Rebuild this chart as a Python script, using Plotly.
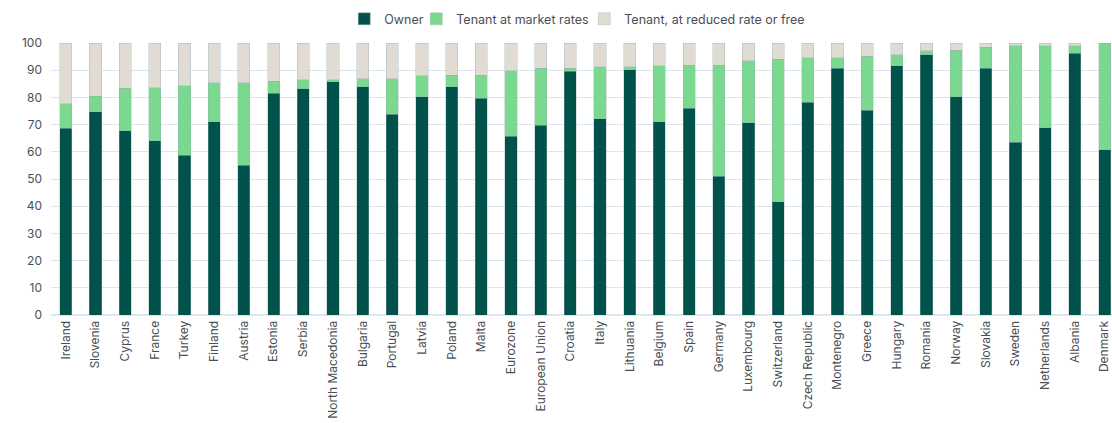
import plotly.graph_objects as go

countries = ["Ireland", "Slovenia", "Cyprus", "France", "Turkey", "Finland", "Austria",
             "Estonia", "Serbia", "North Macedonia", "Bulgaria", "Portugal", "Latvia",
             "Poland", "Malta", "Eurozone", "European Union", "Croatia", "Italy",
             "Lithuania", "Belgium", "Spain", "Germany", "Luxembourg", "Switzerland",
             "Czech Republic", "Montenegro", "Greece", "Hungary", "Romania", "Norway",
             "Slovakia", "Sweden", "Netherlands", "Albania", "Denmark"]

owner = [68.6, 74.7, 67.8, 64.0, 58.8, 71.0, 55.1, 81.6, 83.1, 85.7, 84.0, 73.8, 80.2,
         84.0, 79.7, 65.7, 69.8, 89.6, 72.2, 90.2, 71.1, 76.1, 51.0, 70.7, 41.7,
         78.3, 90.8, 75.3, 91.6, 95.6, 80.2, 90.8, 63.5, 68.8, 96.3, 60.7]

market = [9.0, 5.8, 15.6, 19.5, 25.5, 14.3, 30.2, 4.4, 3.3, 0.7, 2.9, 13.1, 7.7,
          4.2, 8.5, 24.1, 21.0, 1.2, 19.0, 1.0, 20.5, 15.8, 40.9, 22.7, 52.4,
          16.2, 3.7, 19.9, 4.0, 1.5, 17.2, 7.6, 35.4, 30.1, 2.6, 39.2]

reduced = [22.4, 19.5, 16.6, 16.5, 15.7, 14.7, 14.7, 14.0, 13.6, 13.6, 13.1, 13.1, 12.1,
           11.8, 11.8, 10.2, 9.2, 9.2, 8.8, 8.8, 8.4, 8.1, 8.1, 6.6, 5.9,
           5.5, 5.5, 4.8, 4.4, 2.9, 2.6, 1.6, 1.1, 1.1, 1.1, 0.1]

series = [
    ("Owner", owner, "#00524a", 27),
    ("Tenant at market rates", market, "#7bd88f", 123),
    ("Tenant, at reduced rate or free", reduced, "#e0dcd3", None),
]

font_family = "Inter, Roboto, 'Open Sans', sans-serif"
text_color = "#4a4f55"

fig = go.Figure()
for name, vals, color, lw in series:
    fig.add_trace(go.Bar(
        x=countries, y=vals, name=name, legendwidth=lw,
        marker=dict(color=color, line=dict(width=0.6, color="rgba(150,175,180,0.6)")),
    ))

fig.update_layout(
    barmode="stack",
    bargap=0.59,
    width=1112, height=423,
    margin=dict(l=51, r=0, t=43, b=108, autoexpand=False),
    plot_bgcolor="white", paper_bgcolor="white",
    font=dict(family=font_family, size=12, color=text_color),
    legend=dict(orientation="h", x=0.496, xanchor="center", y=0.99, yanchor="top",
                yref="container", font=dict(size=12.5, color=text_color),
                itemwidth=30, traceorder="normal", tracegroupgap=0),
    showlegend=True,
)
fig.update_xaxes(
    range=[-0.5, 35.25], tickangle=-90, showgrid=False,
    showline=True, linecolor="#dfe7ee", ticks="",
    tickfont=dict(size=12, color=text_color),
)
fig.update_yaxes(
    range=[0, 100], dtick=10, showgrid=True, gridcolor="#dce6ee", gridwidth=1,
    zeroline=True, zerolinecolor="#dce6ee", ticks="",
    tickfont=dict(size=12, color=text_color), ticklabelstandoff=8,
)

fig.write_html(
    "out.html",
    config={"displayModeBar": False},
    post_script="document.body.style.margin='0';document.body.style.overflow='hidden';",
)
